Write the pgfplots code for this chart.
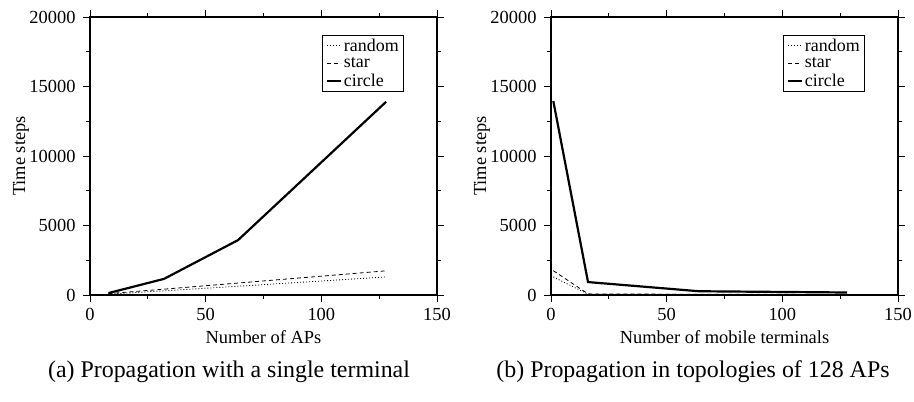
\documentclass[border=0pt]{standalone}
\usepackage{fontspec}
\setmainfont{Liberation Serif}
\usepackage{pgfplots}
\pgfplotsset{compat=1.18}

\pgfplotsset{
  tsplot/.style={
    width=347bp, height=278bp, scale only axis,
    anchor=south west,
    xmin=0, xmax=150, ymin=0, ymax=20000,
    xtick={0,50,100,150}, ytick={0,5000,10000,15000,20000},
    minor xtick={25,75,125}, minor ytick={2500,7500,12500,17500},
    tick align=outside,
    major tick length=7bp, minor tick length=4bp,
    axis line style={line width=1.1bp},
    every tick/.style={black, line width=0.9bp},
    scaled ticks=false,
    /pgf/number format/assume math mode=true,
    /pgf/number format/1000 sep={},
    tick label style={font=\fontsize{18.5}{20}\selectfont},
    xticklabel style={yshift=-3bp},
    yticklabel style={xshift=-4bp},
    label style={font=\fontsize{18.5}{20}\selectfont},
    ylabel={Time steps},
    xlabel style={at={(axis description cs:0.5,0)}, anchor=base, yshift=-48bp},
    ylabel style={at={(axis description cs:-0.187,0.5)}, anchor=base},
    legend style={at={(axis description cs:0.905,0.935)}, anchor=north east,
      font=\fontsize{18}{16}\selectfont, draw=black, line width=0.6bp,
      inner xsep=3bp, inner ysep=1.5bp, row sep=1bp, cells={anchor=west}},
    legend image code/.code={\draw[#1] (0bp,0bp) -- (14bp,0bp);},
    rnd/.style={black, line width=0.8bp, dash pattern=on 1bp off 2bp},
    str/.style={black, line width=0.8bp, dash pattern=on 4bp off 3bp},
    cir/.style={black, line width=2.2bp},
  }
}

\begin{document}
\begin{tikzpicture}[x=1bp,y=1bp]
\path[use as bounding box] (0,0) rectangle (914,401);

\begin{axis}[tsplot, at={(90bp,106bp)}, xlabel={Number of APs}]
\addplot[rnd] coordinates {(8,60) (32,300) (64,630) (128,1300)};
\addplot[str] coordinates {(8,100) (32,420) (64,860) (128,1740)};
\addplot[cir] coordinates {(8,140) (32,1160) (64,3950) (128,13900)};
\legend{random,star,circle}
\end{axis}

\begin{axis}[tsplot, at={(551bp,106bp)}, xlabel={Number of mobile terminals}]
\addplot[rnd] coordinates {(1,1300) (16,60) (64,40) (128,30)};
\addplot[str] coordinates {(1,1750) (16,80) (64,50) (128,40)};
\addplot[cir] coordinates {(1,13950) (16,930) (64,270) (128,180)};
\legend{random,star,circle}
\end{axis}

\node[font=\fontsize{24}{26}\selectfont] at (229,29) {(a) Propagation with a single terminal};
\node[font=\fontsize{24}{26}\selectfont] at (693,29) {(b) Propagation in topologies of 128 APs};
\end{tikzpicture}
\end{document}
